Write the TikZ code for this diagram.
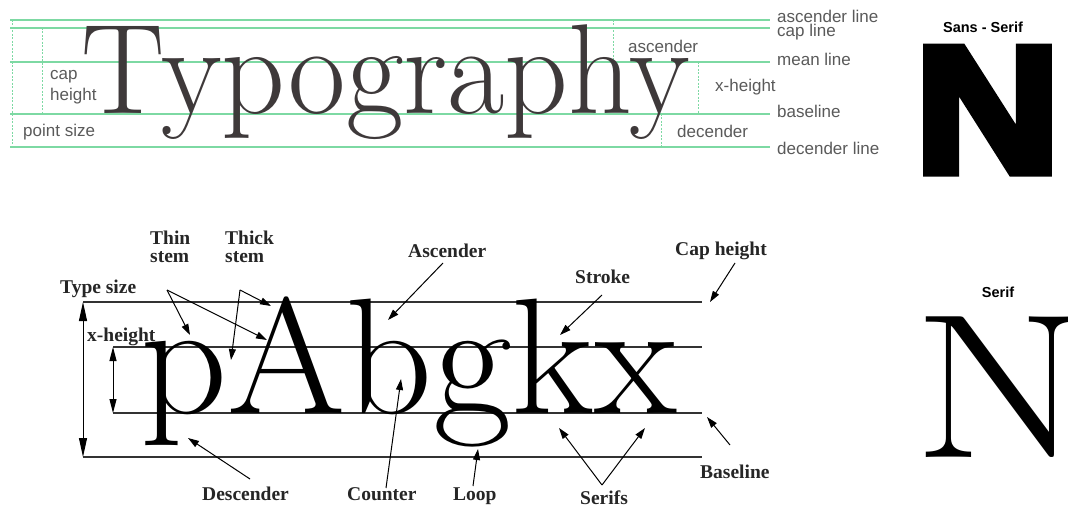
\documentclass[tikz,border=0pt]{standalone}
\usepackage{fontspec}
\newfontfamily\labsans{Liberation Sans}
\newfontfamily\labserif{Liberation Serif}
\usetikzlibrary{arrows.meta}
\definecolor{guide}{HTML}{7DD9A3}
\definecolor{typo}{HTML}{3E393A}
\definecolor{labgray}{HTML}{5A5A5A}
\begin{document}
\begin{tikzpicture}[x=1pt,y=-1pt,
  guideline/.style={draw=guide, line width=1.2pt},
  guidedot/.style={draw=guide, line width=0.9pt, dash pattern=on 2pt off 1.5pt},
  toplabel/.style={inner sep=0pt, anchor=base west, text=labgray, font=\labsans\fontsize{17}{21}\selectfont},
  rulebk/.style={draw=black!80, line width=1.3pt},
  pointer/.style={draw=black, line width=1pt, -{Triangle[length=11pt,width=7pt]}},
  dimbig/.style={draw=black, line width=1pt, {Triangle[length=19pt,width=8pt]}-{Triangle[length=19pt,width=8pt]}},
  dimsmall/.style={draw=black, line width=1pt, {Triangle[length=14pt,width=7pt]}-{Triangle[length=14pt,width=7pt]}},
  botlabel/.style={inner sep=0pt, anchor=base west, text=black!85, font=\labserif\bfseries\fontsize{19.5}{18}\selectfont},
  biglab/.style={inner sep=0pt, font=\labsans\bfseries\fontsize{14.5}{14.5}\selectfont},
]
\useasboundingbox (0,0) rectangle (1068,508);
\fill[white] (0,0) rectangle (1068,508);

% ---------- top: Typography ----------
\draw[guideline] (10,20) -- (770,20);
\draw[guideline] (10,28) -- (770,28);
\draw[guideline] (10,62) -- (770,62);
\draw[guideline] (10,114) -- (770,114);
\draw[guideline] (10,147) -- (770,147);
\draw[guidedot] (12,20) -- (12,147);
\draw[guidedot] (42,28) -- (42,114);
\draw[guidedot] (613,20) -- (613,62);
\draw[guidedot] (698,62) -- (698,114);
\draw[guidedot] (661,114) -- (661,147);

\node[anchor=base west, inner sep=0pt, text=typo, font=\fontsize{128}{128}\selectfont\addfontfeatures{FakeBold=4.5}] (typo) at (81,114) {\scalebox{0.975}[1]{Typography}};

\node[toplabel] (capa) at (50,80) {cap};
\node[toplabel] (capb) at (50,101) {height};
\node[toplabel] (ptsize) at (23,137) {point size};
\node[toplabel] (asc) at (628,53) {ascender};
\node[toplabel] (xh) at (715,92) {x-height};
\node[toplabel] (dec) at (677,138) {decender};
\node[toplabel] (ascl) at (777,23) {ascender line};
\node[toplabel] (capl) at (777,37) {cap line};
\node[toplabel] (meanl) at (777,66) {mean line};
\node[toplabel] (basel) at (777,118) {baseline};
\node[toplabel] (decl) at (777,154) {decender line};

% ---------- right: N samples ----------
\node[biglab, anchor=base] (sanslab) at (983,33) {Sans - Serif};
\node[anchor=base, inner sep=0pt, font=\labsans\bfseries\fontsize{180}{180}\selectfont\addfontfeatures{FakeBold=5}] (sansN) at (987.5,172) {\scalebox{1.12}[1]{N}};
\node[biglab, anchor=base] (seriflab) at (998,297) {Serif};
\node[anchor=base west, inner sep=0pt, font=\fontsize{206}{206}\selectfont\addfontfeatures{FakeBold=3}] (serifN) at (913,457) {\scalebox{1.22}[1]{N}};

% ---------- bottom: pAbgkx ----------
\draw[rulebk] (83,302) -- (702,302);
\draw[rulebk] (113,347) -- (702,347);
\draw[rulebk] (113,413) -- (702,413);
\draw[rulebk] (83,457) -- (702,457);

\node[anchor=base west, inner sep=0pt, font=\fontsize{165}{165}\selectfont\addfontfeatures{FakeBold=4.5}] (word) at (140,413) {\scalebox{1.035}[1]{pAbgkx}};

\coordinate (ts-top) at (83,302);
\coordinate (ts-bot) at (83,457);
\coordinate (xh-top) at (113,347);
\coordinate (xh-bot) at (113,413);
\draw[dimbig] (ts-top) -- (ts-bot);
\draw[dimsmall] (xh-top) -- (xh-bot);

\node[botlabel] (typesize) at (60,293) {Type size};
\node[botlabel] (xheight) at (87,341) {x-height};
\node[botlabel, anchor=base west, align=left] (thin) at (150,262) {Thin\\stem};
\node[botlabel, anchor=base west, align=left] (thick) at (225,262) {Thick\\stem};
\node[botlabel] (ascender) at (408,257) {Ascender};
\node[botlabel] (stroke) at (575,283) {Stroke};
\node[botlabel] (capheight) at (675,255) {Cap height};
\node[botlabel] (descender) at (202,500) {Descender};
\node[botlabel] (counter) at (347,500) {Counter};
\node[botlabel] (loop) at (453,500) {Loop};
\node[botlabel] (serifs) at (580,504) {Serifs};
\node[botlabel] (baseline) at (700,478) {Baseline};

% pointer coordinates
\coordinate (thin-o) at (167,290);
\coordinate (thin-p) at (190,335);
\coordinate (thin-a) at (267,340);
\coordinate (thick-o) at (240,290);
\coordinate (thick-a) at (271,306);
\coordinate (thick-p) at (231,360);
\coordinate (asc-o) at (443,263);
\coordinate (asc-t) at (388,320);
\coordinate (str-o) at (602,295);
\coordinate (str-t) at (560,335);
\coordinate (cap-o) at (735,263);
\coordinate (cap-t) at (710,302);
\coordinate (desc-o) at (250,479);
\coordinate (desc-t) at (188,438);
\coordinate (cnt-o) at (386,488);
\coordinate (cnt-t) at (401,379);
\coordinate (loop-o) at (473,486);
\coordinate (loop-t) at (478,449);
\coordinate (ser-o) at (602,485);
\coordinate (ser-l) at (559,428);
\coordinate (ser-r) at (645,428);
\coordinate (bl-o) at (730,445);
\coordinate (bl-t) at (707,417);

\draw[pointer] (thin-o) -- (thin-p);
\draw[pointer] (thin-o) -- (thin-a);
\draw[pointer] (thick-o) -- (thick-a);
\draw[pointer] (thick-o) -- (thick-p);
\draw[pointer] (asc-o) -- (asc-t);
\draw[pointer] (str-o) -- (str-t);
\draw[pointer] (cap-o) -- (cap-t);
\draw[pointer] (desc-o) -- (desc-t);
\draw[pointer] (cnt-o) -- (cnt-t);
\draw[pointer] (loop-o) -- (loop-t);
\draw[pointer] (ser-o) -- (ser-l);
\draw[pointer] (ser-o) -- (ser-r);
\draw[pointer] (bl-o) -- (bl-t);
\end{tikzpicture}
\end{document}
